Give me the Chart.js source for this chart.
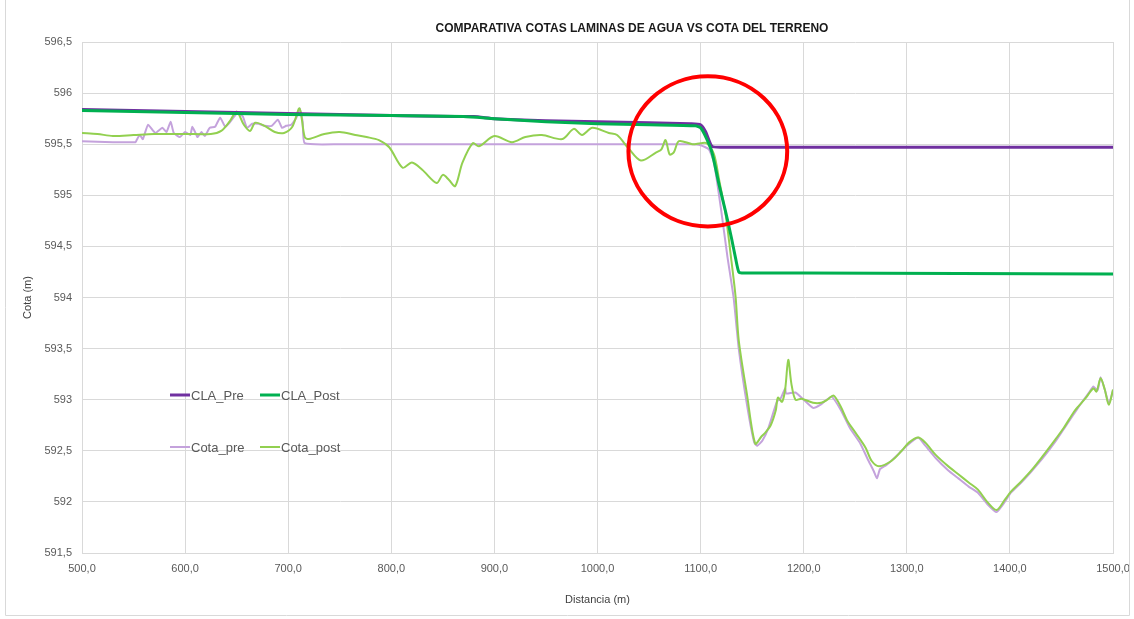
<!DOCTYPE html>
<html>
<head>
<meta charset="utf-8">
<script src="https://cdn.jsdelivr.net/npm/chart.js@4/dist/chart.umd.min.js"></script>
<style>
  html, body { margin: 0; padding: 0; background: #fff; }
  #wrap { width: 1134px; height: 619px; position: relative; }
</style>
</head>
<body>
<div id="wrap"><canvas id="cotasChart" width="1134" height="619"></canvas></div>
<script>
// ---- data ----
const claPreX = [500, 600, 700, 800, 880, 900, 950, 1000, 1050, 1090, 1100, 1105, 1111, 1120, 1300, 1500];
const claPreY = [595.84, 595.82, 595.80, 595.78, 595.77, 595.75, 595.73, 595.72, 595.71, 595.70, 595.69, 595.62, 595.48, 595.47, 595.47, 595.47];

const claPostX = [500, 600, 700, 800, 870, 900, 950, 1000, 1050, 1095, 1100, 1106, 1111, 1118, 1124, 1130, 1134, 1137, 1140, 1200, 1500];
const claPostY = [595.83, 595.81, 595.79, 595.78, 595.77, 595.75, 595.72, 595.70, 595.69, 595.68, 595.66, 595.55, 595.42, 595.10, 594.85, 594.58, 594.38, 594.25, 594.24, 594.24, 594.23];

const cotaPreX = [500, 530, 552, 553, 556, 559, 564, 571, 578, 582, 586, 589, 595, 600, 605, 607, 611, 612, 616, 619, 624, 629, 634, 639, 643, 651, 656, 660, 665, 671, 677, 684, 690, 694, 698, 703, 708, 711, 714, 716, 750, 800, 900, 1000, 1090, 1100, 1108, 1113, 1120, 1126, 1132, 1137, 1145, 1152, 1155, 1160, 1166, 1174, 1178, 1182, 1183, 1192, 1200, 1209, 1216, 1227, 1236, 1245, 1255, 1262, 1268, 1271, 1274, 1280, 1290, 1300, 1311, 1318, 1328, 1340, 1350, 1360, 1369, 1378, 1387, 1395, 1401, 1411, 1421, 1432, 1444, 1452, 1462, 1468, 1476, 1481, 1485, 1488, 1492, 1496, 1500];
const cotaPreY = [595.53, 595.52, 595.52, 595.54, 595.59, 595.55, 595.69, 595.61, 595.66, 595.62, 595.72, 595.61, 595.57, 595.62, 595.59, 595.67, 595.59, 595.57, 595.62, 595.58, 595.66, 595.67, 595.76, 595.67, 595.71, 595.81, 595.77, 595.66, 595.70, 595.70, 595.68, 595.68, 595.74, 595.66, 595.68, 595.69, 595.76, 595.85, 595.72, 595.51, 595.50, 595.50, 595.50, 595.50, 595.50, 595.49, 595.45, 595.32, 594.85, 594.40, 594.00, 593.50, 592.95, 592.58, 592.55, 592.60, 592.73, 592.98, 593.02, 593.11, 593.06, 593.07, 593.00, 592.92, 592.95, 593.03, 592.90, 592.72, 592.57, 592.42, 592.30, 592.23, 592.32, 592.36, 592.45, 592.55, 592.63, 592.55, 592.43, 592.31, 592.23, 592.15, 592.09, 591.98, 591.90, 592.00, 592.09, 592.19, 592.30, 592.43, 592.59, 592.71, 592.86, 592.95, 593.06, 593.13, 593.09, 593.22, 593.10, 592.96, 593.09];

const cotaPostX = [500, 515, 530, 550, 570, 600, 625, 635, 643, 650, 657, 663, 668, 677, 687, 696, 704, 711, 716, 720, 735, 750, 765, 776, 788, 798, 811, 820, 830, 844, 850, 856, 862, 869, 879, 885, 900, 917, 930, 946, 966, 977, 985, 995, 1011, 1019, 1030, 1042, 1057, 1062, 1066, 1070, 1074, 1079, 1092, 1100, 1106, 1113, 1118, 1124, 1130, 1134, 1137, 1145, 1153, 1159, 1163, 1168, 1173, 1175, 1179, 1182, 1185, 1188, 1192, 1198, 1209, 1217, 1223, 1229, 1236, 1242, 1250, 1260, 1266, 1273, 1285, 1295, 1302, 1311, 1318, 1328, 1340, 1350, 1360, 1369, 1378, 1387, 1395, 1401, 1411, 1421, 1432, 1444, 1452, 1462, 1466, 1473, 1481, 1484, 1488, 1492, 1496, 1500];
const cotaPostY = [595.61, 595.60, 595.58, 595.59, 595.60, 595.60, 595.60, 595.63, 595.72, 595.82, 595.69, 595.63, 595.71, 595.68, 595.62, 595.61, 595.67, 595.85, 595.57, 595.55, 595.60, 595.62, 595.59, 595.57, 595.54, 595.47, 595.27, 595.32, 595.25, 595.12, 595.20, 595.15, 595.09, 595.32, 595.51, 595.48, 595.58, 595.52, 595.57, 595.59, 595.55, 595.65, 595.59, 595.66, 595.61, 595.59, 595.46, 595.34, 595.42, 595.45, 595.54, 595.40, 595.42, 595.53, 595.50, 595.51, 595.51, 595.40, 595.15, 594.83, 594.35, 594.00, 593.58, 593.05, 592.57, 592.64, 592.68, 592.75, 592.90, 593.02, 592.98, 593.10, 593.39, 593.16, 593.00, 593.01, 592.97, 592.97, 593.00, 593.04, 592.93, 592.80, 592.68, 592.53, 592.40, 592.35, 592.40, 592.50, 592.58, 592.63, 592.58, 592.46, 592.35, 592.27, 592.19, 592.12, 592.00, 591.92, 592.02, 592.10, 592.20, 592.31, 592.45, 592.61, 592.72, 592.88, 592.93, 593.01, 593.11, 593.08, 593.21, 593.10, 592.95, 593.10];

// highlighted zone (red ellipse), in axis units
const zoneCenter = { x: 1107, y: 595.43 };
const zoneRadius = { x: 77, y: 0.735 };

const pairUp = (xs, ys) => xs.map((x, i) => ({ x: x, y: ys[i] }));
const commaNum = (v, d) => v.toFixed(d).replace('.', ',');
const FONT = '"Liberation Sans", Arial, sans-serif';

// title, legend and ellipse drawn by hand (Excel-style layout)
const extrasPlugin = {
  id: 'extras',
  afterDatasetsDraw(chart) {
    const { ctx, scales } = chart;
    // red ellipse
    const cx = scales.x.getPixelForValue(zoneCenter.x);
    const cy = scales.y.getPixelForValue(zoneCenter.y);
    const rx = scales.x.getPixelForValue(zoneCenter.x + zoneRadius.x) - cx;
    const ry = cy - scales.y.getPixelForValue(zoneCenter.y + zoneRadius.y);
    ctx.save();
    ctx.beginPath();
    ctx.ellipse(cx, cy, rx, ry, 0, 0, Math.PI * 2);
    ctx.strokeStyle = '#FF0000';
    ctx.lineWidth = 4;
    ctx.stroke();
    ctx.restore();
  },
  afterDraw(chart) {
    const { ctx, chartArea } = chart;
    ctx.save();
    // title
    ctx.font = 'bold 12px ' + FONT;
    ctx.fillStyle = '#1a1a1a';
    ctx.textAlign = 'center';
    ctx.textBaseline = 'middle';
    ctx.fillText('COMPARATIVA COTAS LAMINAS DE AGUA VS COTA DEL TERRENO', 632, 29);

    // legend inside the plot
    const items = chart.data.datasets;
    const slots = [
      { dx: 88, dy: 353 }, { dx: 178, dy: 353 },
      { dx: 88, dy: 405 }, { dx: 178, dy: 405 }
    ];
    ctx.font = '13px ' + FONT;
    ctx.textAlign = 'left';
    items.forEach((ds, i) => {
      const s = slots[i];
      const x = chartArea.left + s.dx;
      const y = chartArea.top + s.dy;
      ctx.beginPath();
      ctx.moveTo(x, y);
      ctx.lineTo(x + 20, y);
      ctx.strokeStyle = ds.borderColor;
      ctx.lineWidth = ds.borderWidth;
      ctx.stroke();
      ctx.fillStyle = '#595959';
      ctx.fillText(ds.label, x + 21, y + 1);
    });

    // outer frame
    ctx.strokeStyle = '#D9D9D9';
    ctx.lineWidth = 1;
    ctx.beginPath();
    ctx.moveTo(5.5, 0); ctx.lineTo(5.5, 615.5); ctx.lineTo(1129.5, 615.5); ctx.lineTo(1129.5, 0);
    ctx.stroke();
    ctx.restore();
  }
};

const ctx = document.getElementById('cotasChart').getContext('2d');
const cotasChart = new Chart(ctx, {
  type: 'scatter',
  data: {
    datasets: [
      {
        label: 'CLA_Pre',
        data: pairUp(claPreX, claPreY),
        borderColor: '#7030A0',
        borderWidth: 3,
        tension: 0.2,
        order: 1
      },
      {
        label: 'CLA_Post',
        data: pairUp(claPostX, claPostY),
        borderColor: '#00B050',
        borderWidth: 3,
        tension: 0.2,
        order: 0
      },
      {
        label: 'Cota_pre',
        data: pairUp(cotaPreX, cotaPreY),
        borderColor: '#C4A2DC',
        borderWidth: 2,
        tension: 0.15,
        order: 3
      },
      {
        label: 'Cota_post',
        data: pairUp(cotaPostX, cotaPostY),
        borderColor: '#92D050',
        borderWidth: 2,
        tension: 0.3,
        order: 2
      }
    ]
  },
  options: {
    responsive: false,
    animation: false,
    showLine: true,
    elements: { point: { radius: 0, hoverRadius: 0 }, line: { fill: false } },
    layout: { padding: { top: 42, left: 17, right: 21, bottom: 10 } },
    plugins: {
      legend: { display: false },
      title: { display: false },
      tooltip: { enabled: false }
    },
    scales: {
      x: {
        type: 'linear',
        min: 500,
        max: 1500,
        afterFit: (scale) => {
          scale.height = 56;
          scale.paddingLeft = 0;
          scale.paddingRight = 0;
        },
        ticks: {
          stepSize: 100,
          padding: 9,
          color: '#595959',
          font: { family: FONT, size: 11 },
          maxRotation: 0,
          callback: (v) => commaNum(v, 1)
        },
        grid: { color: '#D9D9D9', drawTicks: false },
        border: { color: '#D9D9D9' },
        title: {
          display: true,
          text: 'Distancia (m)',
          color: '#404040',
          font: { family: FONT, size: 11 },
          padding: { top: 0, bottom: 2 }
        }
      },
      y: {
        type: 'linear',
        min: 591.5,
        max: 596.5,
        afterFit: (scale) => { scale.width = 65; },
        ticks: {
          stepSize: 0.5,
          padding: 10,
          color: '#595959',
          font: { family: FONT, size: 11 },
          callback: (v) => (Math.abs(v % 1) < 1e-6 ? String(Math.round(v)) : commaNum(v, 1))
        },
        grid: { color: '#D9D9D9', drawTicks: false },
        border: { color: '#D9D9D9' },
        title: {
          display: true,
          text: 'Cota (m)',
          color: '#404040',
          font: { family: FONT, size: 11 },
          padding: { top: 4, bottom: 0 }
        }
      }
    }
  },
  plugins: [extrasPlugin]
});
</script>
</body>
</html>
